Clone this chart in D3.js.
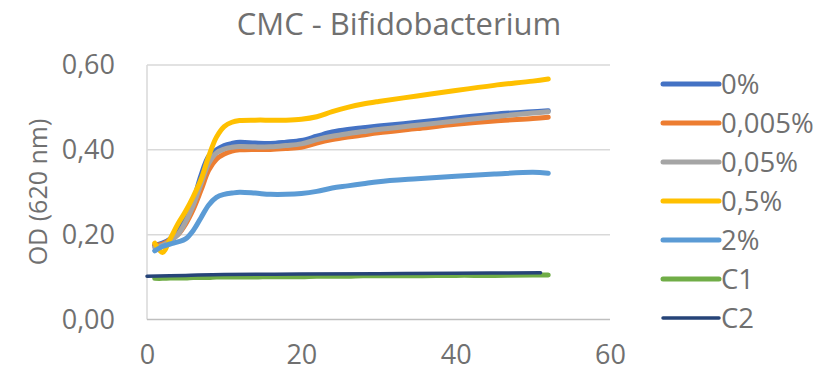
<!DOCTYPE html>
<html>
<head>
<meta charset="utf-8">
<script src="https://cdn.jsdelivr.net/npm/d3@7"></script>
<style>
  body { margin: 0; background: #fff; }
  text { font-family: "Open Sans", "Liberation Sans", sans-serif; fill: #707070; }
</style>
</head>
<body>
<div id="chart"></div>
<script>
// sampling hours and OD readings per concentration
var hours = [1,2,3,4,5,6,7,8,9,10,11,12,14,16,18,20,22,24,26,28,30,35,40,45,50,52];
var od0 = [0.175,0.18,0.19,0.21,0.24,0.28,0.34,0.385,0.40,0.41,0.415,0.418,0.416,0.415,0.418,0.422,0.432,0.442,0.448,0.452,0.456,0.465,0.475,0.484,0.49,0.492];
var od0005 = [0.175,0.178,0.188,0.2,0.225,0.26,0.305,0.352,0.378,0.39,0.397,0.4,0.401,0.401,0.403,0.406,0.416,0.424,0.43,0.435,0.44,0.45,0.46,0.468,0.474,0.477];
var od005 = [0.17,0.175,0.185,0.2,0.23,0.27,0.32,0.368,0.393,0.402,0.406,0.408,0.407,0.407,0.41,0.414,0.424,0.432,0.438,0.443,0.448,0.458,0.468,0.478,0.487,0.49];
var od05 = [0.18,0.158,0.19,0.225,0.255,0.29,0.33,0.385,0.43,0.455,0.465,0.469,0.47,0.47,0.47,0.472,0.478,0.49,0.5,0.508,0.514,0.527,0.54,0.552,0.562,0.567];
var od2 = [0.162,0.172,0.178,0.183,0.19,0.21,0.24,0.27,0.288,0.295,0.298,0.3,0.298,0.295,0.295,0.297,0.302,0.31,0.315,0.32,0.325,0.332,0.338,0.343,0.347,0.345];
var odC1 = [0.097,0.097,0.098,0.098,0.098,0.099,0.099,0.099,0.1,0.1,0.1,0.1,0.1,0.101,0.101,0.101,0.102,0.102,0.102,0.103,0.103,0.103,0.104,0.104,0.105,0.105];
var c2Hours = [0,5,10,20,30,40,51];
var odC2 = [0.102,0.104,0.106,0.107,0.108,0.109,0.11];

var seriesNames = ["0%","0,005%","0,05%","0,5%","2%","C1","C2"];
var colors = ["#4472C4","#ED7D31","#A5A5A5","#FFC000","#5B9BD5","#70AD47","#264478"];
var xTicks = [0,20,40,60];
var yTicks = [0,0.2,0.4,0.6];

function init() {
    var w = 818, h = 378;
    var svg = d3.select("#chart").append("svg")
        .attr("width", w).attr("height", h);

    var x = d3.scaleLinear().domain([0, 60]).range([147, 610]);
    var y = d3.scaleLinear().domain([0, 0.6]).range([319.5, 65]);
    var fmt = function(v) { return d3.format(".2f")(v).replace(".", ","); };

    // gridlines
    svg.selectAll("line.grid")
       .data(yTicks.filter(function(d) { return d > 0; }))
       .enter().append("line")
       .attr("x1", x(0)).attr("x2", x(60))
       .attr("y1", function(d) { return y(d); })
       .attr("y2", function(d) { return y(d); })
       .attr("stroke", "#d9d9d9").attr("stroke-width", 1.5);

    // axes lines
    svg.append("line").attr("x1", x(0)).attr("x2", x(0))
       .attr("y1", y(0.6)).attr("y2", y(0))
       .attr("stroke", "#d9d9d9").attr("stroke-width", 1.5);
    svg.append("line").attr("x1", x(0)).attr("x2", x(60))
       .attr("y1", y(0)).attr("y2", y(0))
       .attr("stroke", "#bfbfbf").attr("stroke-width", 1.5);

    var yAxis = d3.axisLeft(y).tickValues(yTicks).tickFormat(fmt).tickSize(0).tickPadding(32);
    var gy = svg.append("g").attr("transform", "translate(" + x(0) + ",0)").call(yAxis);
    gy.select(".domain").remove();
    gy.selectAll("text").style("font-size", "27px").attr("fill", "#707070");

    var xAxis = d3.axisBottom(x).tickValues(xTicks).tickSize(0).tickPadding(25);
    var gx = svg.append("g").attr("transform", "translate(0," + y(0) + ")").call(xAxis);
    gx.select(".domain").remove();
    gx.selectAll("text").style("font-size", "27px").attr("fill", "#707070");

    var series = [
        {xs: hours, ys: od0},
        {xs: hours, ys: od0005},
        {xs: hours, ys: od005},
        {xs: hours, ys: od05},
        {xs: hours, ys: od2},
        {xs: hours, ys: odC1},
        {xs: c2Hours, ys: odC2}
    ];

    var line = d3.line()
        .x(function(d) { return x(d[0]); })
        .y(function(d) { return y(d[1]); })
        .curve(d3.curveCatmullRom.alpha(0.5));

    series.forEach(function(s, i) {
        var pts = s.xs.map(function(v, j) { return [v, s.ys[j]]; });
        svg.append("path")
           .attr("d", line(pts))
           .attr("fill", "none")
           .attr("stroke", colors[i])
           .attr("stroke-width", i == 6 ? 3.5 : 5)
           .attr("stroke-linecap", "round")
           .attr("stroke-linejoin", "round");
    });

    // legend
    var leg = svg.selectAll("g.leg").data(seriesNames).enter().append("g")
        .attr("transform", function(d, i) { return "translate(0," + (84 + i * 39) + ")"; });
    leg.append("line").attr("x1", 663).attr("x2", 719)
       .attr("stroke", function(d, i) { return colors[i]; })
       .attr("stroke-width", function(d, i) { return i == 6 ? 3.5 : 5; })
       .attr("stroke-linecap", "round");
    leg.append("text").attr("x", 721).attr("dy", "0.35em")
       .style("font-size", "27.5px").text(function(d) { return d; });

    // titles
    svg.append("text").attr("x", 399).attr("y", 24).attr("dy", "0.35em")
       .attr("text-anchor", "middle").style("font-size", "31px")
       .text("CMC - Bifidobacterium");
    svg.append("text").attr("transform", "translate(38,192) rotate(-90)")
       .attr("dy", "0.35em").attr("text-anchor", "middle").style("font-size", "25px")
       .text("OD (620 nm)");
}

window.onload = init;
</script>
</body>
</html>
